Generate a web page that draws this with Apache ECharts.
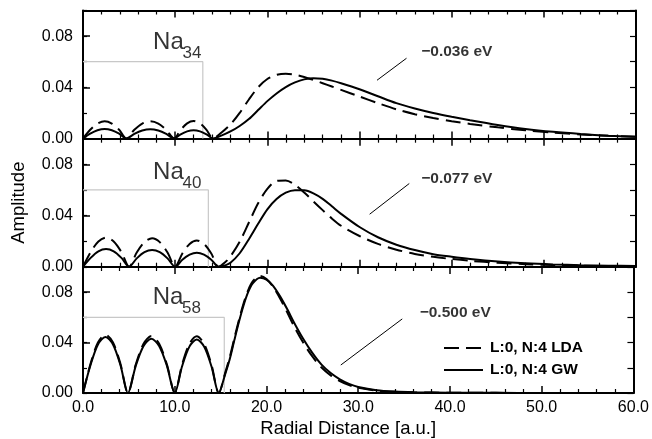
<!DOCTYPE html>
<html>
<head>
<meta charset="utf-8">
<script src="https://cdn.jsdelivr.net/npm/echarts@6/dist/echarts.min.js"></script>
<style>
html,body{margin:0;padding:0;background:#fff;}
#chart{width:652px;height:439px;}
</style>
</head>
<body>
<div id="chart"></div>
<script>
// ---- Data ----
const clusterSizes = ['34', '40', '58'];
const energyLabels = ['\u22120.036 eV', '\u22120.077 eV', '\u22120.500 eV'];
const seriesNames = ['L:0, N:4 LDA', 'L:0, N:4 GW'];
const wellRadius = [13.0, 13.6, 15.4];
const wellTop = 0.06;
const xTickLabels = ['0.0', '10.0', '20.0', '30.0', '40.0', '50.0', '60.0'];

// Na34
const x34 = [0, 0.78, 1.57, 2.35, 3.13, 3.92, 4.7, 5.57, 6.43, 7.3, 8.17, 9.03, 9.9, 10.6, 11.3, 12.0, 12.7, 13.4, 14.1,
  15, 16, 17, 18, 19, 20, 21, 22, 23, 24, 25, 26, 27, 28, 30, 32, 34, 36, 38, 40, 42, 45, 48, 51, 54, 57, 60];
const lda34 = [0, 0.0068, 0.0117, 0.0135, 0.0117, 0.0068, 0, 0.0068, 0.0117, 0.0135, 0.0117, 0.0068, 0, 0.0068, 0.0118, 0.0136, 0.0118, 0.0068, 0,
  0.0045, 0.0110, 0.0200, 0.0305, 0.0400, 0.0465, 0.0497, 0.0506, 0.0499, 0.0481, 0.0457, 0.0432, 0.0406, 0.0380, 0.0328, 0.0276, 0.0228, 0.0190, 0.0160, 0.0135, 0.0114, 0.0087, 0.0064, 0.0046, 0.0032, 0.0021, 0.0013];
const gw34 = [0, 0.0038, 0.0065, 0.0075, 0.0065, 0.0038, 0, 0.0036, 0.0062, 0.0072, 0.0062, 0.0036, 0, 0.0033, 0.0056, 0.0065, 0.0056, 0.0033, 0,
  0.0022, 0.0055, 0.0098, 0.0152, 0.0222, 0.0292, 0.0352, 0.0402, 0.0438, 0.0462, 0.0471, 0.0466, 0.0452, 0.0432, 0.0385, 0.0330, 0.0276, 0.0235, 0.0200, 0.0170, 0.0143, 0.0106, 0.0075, 0.0052, 0.0035, 0.0022, 0.0013];

// Na40
const x40 = [0, 0.83, 1.67, 2.5, 3.33, 4.17, 5.0, 5.83, 6.67, 7.5, 8.33, 9.17, 10.0, 10.78, 11.57, 12.35, 13.13, 13.92, 14.7,
  15.5, 16, 17, 18, 19, 20, 21, 22, 23, 24, 25, 26, 27, 28, 30, 32, 34, 36, 38, 40, 42, 45, 48, 51, 54, 57, 60];
const lda40 = [0, 0.0114, 0.0197, 0.0228, 0.0197, 0.0114, 0, 0.0111, 0.0192, 0.0222, 0.0192, 0.0111, 0, 0.0103, 0.0178, 0.0205, 0.0178, 0.0103, 0,
  0.0040, 0.0080, 0.0195, 0.0345, 0.0495, 0.0608, 0.0670, 0.0674, 0.0640, 0.0580, 0.0510, 0.0442, 0.0377, 0.0320, 0.0240, 0.0178, 0.0133, 0.0100, 0.0077, 0.0060, 0.0046, 0.0031, 0.0020, 0.0013, 0.0008, 0.0005, 0.0003];
const gw40 = [0, 0.0069, 0.0120, 0.0138, 0.0120, 0.0069, 0, 0.0065, 0.0113, 0.0130, 0.0113, 0.0065, 0, 0.0055, 0.0094, 0.0109, 0.0094, 0.0055, 0,
  0.0012, 0.0030, 0.0105, 0.0215, 0.0335, 0.0448, 0.0528, 0.0578, 0.0598, 0.0597, 0.0573, 0.0530, 0.0472, 0.0413, 0.0310, 0.0230, 0.0172, 0.0130, 0.0098, 0.0078, 0.0061, 0.0041, 0.0027, 0.0018, 0.0012, 0.0008, 0.0005];

// Na58
const x58 = [0, 0.82, 1.63, 2.45, 3.27, 4.08, 4.9, 5.75, 6.6, 7.45, 8.3, 9.15, 10.0, 10.8, 11.6, 12.4, 13.2, 14.0, 14.8,
  15.5, 16, 16.5, 17, 17.5, 18, 18.5, 19.3, 20, 20.7, 21.5, 22.3, 23, 24, 25, 26, 27, 28, 29, 30, 32, 34, 36, 40, 45, 50, 60];
const lda58 = [0, 0.0232, 0.0401, 0.0463, 0.0401, 0.0232, 0, 0.0226, 0.0391, 0.0452, 0.0391, 0.0226, 0, 0.0225, 0.0390, 0.0450, 0.0390, 0.0225, 0,
  0.0160, 0.0285, 0.0435, 0.0580, 0.0710, 0.0815, 0.0885, 0.0930, 0.0905, 0.0845, 0.0748, 0.0635, 0.0530, 0.0400, 0.0290, 0.0202, 0.0140, 0.0095, 0.0063, 0.0042, 0.0019, 0.0009, 0.0005, 0.0002, 0.0001, 0, 0];
const gw58 = [0, 0.0222, 0.0385, 0.0445, 0.0385, 0.0222, 0, 0.0215, 0.0373, 0.0431, 0.0373, 0.0215, 0, 0.0212, 0.0368, 0.0425, 0.0368, 0.0212, 0,
  0.0150, 0.0270, 0.0420, 0.0565, 0.0695, 0.0800, 0.0870, 0.0915, 0.0900, 0.0852, 0.0765, 0.0660, 0.0560, 0.0430, 0.0318, 0.0225, 0.0158, 0.0108, 0.0072, 0.0048, 0.0022, 0.0011, 0.0006, 0.0002, 0.0001, 0, 0];

// annotation anchors (data units)
const pointerLines = [
  [[31.9, 0.0455], [35.1, 0.0627]],
  [[31.1, 0.0410], [35.4, 0.0650]],
  [[28.1, 0.0222], [34.8, 0.0588]]
];
const naAnchor = [[7.6, 0.0749], [7.6, 0.0736], [7.6, 0.0761]];
const subAnchor = [[10.8, 0.0664], [10.8, 0.0654], [10.8, 0.0676]];
const energyAnchor = [[36.7, 0.0675], [36.7, 0.0687], [36.7, 0.0637]];

const panels = [
  {x: x34, lda: lda34, gw: gw34},
  {x: x40, lda: lda40, gw: gw40},
  {x: x58, lda: lda58, gw: gw58}
];

// ---- Chart ----
const FONT = '"Liberation Sans", Arial, Helvetica, sans-serif';
const gridTops = [10.5, 138.7, 267];
const grids = [], xAxes = [], yAxes = [], series = [];

function zip(xs, ys) { return xs.map((v, i) => [v, ys[i]]); }

panels.forEach((p, i) => {
  grids.push({left: 83, right: 16, top: gridTops[i], height: 128, containLabel: false});
  const last = i === 2;
  const xBase = {
    type: 'value', gridIndex: i, min: 0, max: 60, interval: 10,
    axisLine: {show: true, onZero: false, lineStyle: {color: '#000', width: 2}},
    axisTick: {show: true, inside: true, length: 7, lineStyle: {color: '#000', width: 1.5}},
    minorTick: {show: true, splitNumber: 5, length: 4, lineStyle: {color: '#000', width: 1.2}},
    splitLine: {show: false}, minorSplitLine: {show: false}
  };
  xAxes.push(Object.assign({}, xBase, {
    position: 'bottom',
    axisLabel: {show: last, margin: 7, fontSize: 16, color: '#000', fontFamily: FONT,
      formatter: v => xTickLabels[Math.round(v / 10)] || ''},
    name: last ? 'Radial Distance [a.u.]' : '',
    nameLocation: 'middle', nameGap: 26,
    nameTextStyle: {fontSize: 18.5, color: '#000', fontFamily: FONT, padding: [0, 20, 0, 0]}
  }));
  xAxes.push(Object.assign({}, xBase, {position: 'top', axisLabel: {show: false}}));

  const yBase = {
    type: 'value', gridIndex: i, min: 0, max: 0.1,
    splitLine: {show: false}
  };
  // labelled left axis (major ticks)
  yAxes.push(Object.assign({}, yBase, {
    position: 'left', interval: 0.04,
    axisLine: {show: true, onZero: false, lineStyle: {color: '#000', width: 2}},
    axisTick: {show: true, inside: true, length: 7, lineStyle: {color: '#000', width: 1.5}},
    axisLabel: {show: true, margin: 10, fontSize: 16, color: '#000', fontFamily: FONT,
      formatter: v => (v > 0.09 ? '' : v.toFixed(2))},
    name: i === 1 ? 'Amplitude' : '',
    nameLocation: 'middle', nameGap: 55,
    nameTextStyle: {fontSize: 18.5, color: '#000', fontFamily: FONT}
  }));
  // minor left ticks
  yAxes.push(Object.assign({}, yBase, {
    position: 'left', interval: 0.02,
    axisLine: {show: false, onZero: false},
    axisTick: {show: true, inside: true, length: 4, lineStyle: {color: '#000', width: 1.2}},
    axisLabel: {show: false}
  }));
  // right axis
  yAxes.push(Object.assign({}, yBase, {
    position: 'right', interval: 0.02,
    axisLine: {show: true, onZero: false, lineStyle: {color: '#000', width: 2}},
    axisTick: {show: true, inside: true, length: 6, lineStyle: {color: '#000', width: 1.2}},
    axisLabel: {show: false}
  }));

  const xi = 2 * i, yi = 3 * i;
  series.push({
    type: 'line', xAxisIndex: xi, yAxisIndex: yi, silent: true, z: 1,
    data: [[0, wellTop], [wellRadius[i], wellTop], [wellRadius[i], 0]],
    symbol: 'none', lineStyle: {color: '#c8c8c8', width: 1.2}
  });
  series.push({
    name: seriesNames[0], type: 'line', xAxisIndex: xi, yAxisIndex: yi, z: 3,
    data: zip(p.x, p.lda), symbol: 'none', smooth: 0.3,
    lineStyle: {color: '#000', width: 2, type: [15, 7]}, itemStyle: {color: '#000'}
  });
  series.push({
    name: seriesNames[1], type: 'line', xAxisIndex: xi, yAxisIndex: yi, z: 4,
    data: zip(p.x, p.gw), symbol: 'none', smooth: 0.3,
    lineStyle: {color: '#000', width: 2, type: 'solid'}, itemStyle: {color: '#000'}
  });
  series.push({
    type: 'line', xAxisIndex: xi, yAxisIndex: yi, silent: true, z: 2,
    data: pointerLines[i], symbol: 'none', lineStyle: {color: '#000', width: 1}
  });
  series.push({
    type: 'scatter', xAxisIndex: xi, yAxisIndex: yi, silent: true, symbolSize: 0, z: 5,
    data: [
      {value: naAnchor[i], label: {show: true, formatter: 'Na', position: 'right', distance: 0,
        fontSize: 24, color: '#000', fontFamily: FONT}},
      {value: subAnchor[i], label: {show: true, formatter: clusterSizes[i], position: 'right', distance: 0,
        fontSize: 17, color: '#000', fontFamily: FONT}},
      {value: energyAnchor[i], label: {show: true, formatter: energyLabels[i], position: 'right', distance: 0,
        fontSize: 15.5, fontWeight: 'bold', color: '#000', fontFamily: FONT}}
    ]
  });
});

const chart = echarts.init(document.getElementById('chart'), null, {renderer: 'canvas'});
chart.setOption({
  animation: false,
  backgroundColor: '#fff',
  textStyle: {fontFamily: FONT},
  grid: grids,
  xAxis: xAxes,
  yAxis: yAxes,
  legend: {
    data: seriesNames, orient: 'vertical', left: 443, top: 340, padding: 0,
    itemWidth: 39, itemHeight: 14, itemGap: 6, selectedMode: false,
    itemStyle: {opacity: 0},
    textStyle: {fontSize: 15.5, fontWeight: 'bold', color: '#000', fontFamily: FONT, padding: [0, 0, 0, 2]}
  },
  series: series
});
</script>
</body>
</html>
